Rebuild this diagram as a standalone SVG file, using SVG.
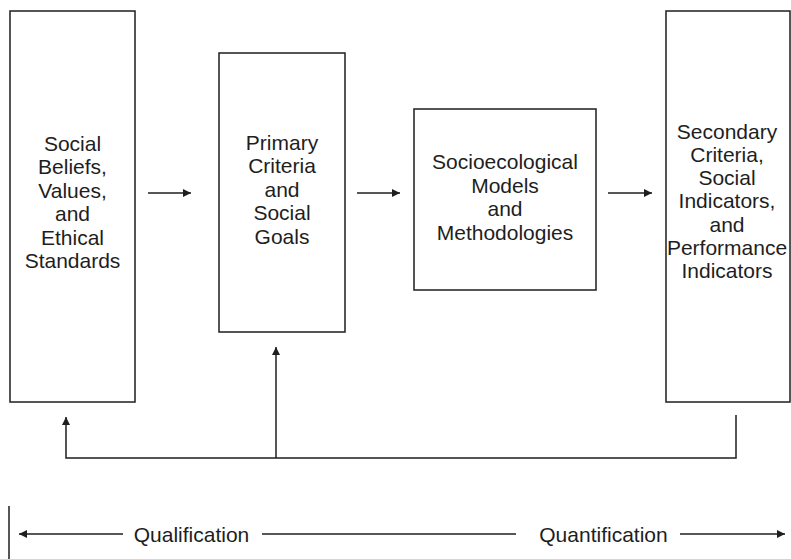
<svg xmlns="http://www.w3.org/2000/svg" width="791" height="559" viewBox="0 0 791 559">
  <style>
    .box { fill: #ffffff; stroke: #1e1e1e; stroke-width: 1.5; }
    .lbl { font-family: "Liberation Sans", Arial, sans-serif; font-size: 21px; fill: #1e1e1e; text-anchor: middle; }
    .wire { fill: none; stroke: #1e1e1e; stroke-width: 1.5; }
  </style>
  <defs>
    <marker id="head" viewBox="0 0 10 10" refX="10" refY="5" markerWidth="10" markerHeight="8" markerUnits="userSpaceOnUse" orient="auto">
      <path d="M0,0 L10,5 L0,10 z" fill="#1e1e1e"/>
    </marker>
  </defs>
  <rect width="791" height="559" fill="#ffffff"/>

  <g id="beliefs">
    <rect class="box" x="10" y="11" width="125" height="391"/>
    <text class="lbl" x="72.5" y="150.5">Social</text>
    <text class="lbl" x="72.5" y="174">Beliefs,</text>
    <text class="lbl" x="72.5" y="197.5">Values,</text>
    <text class="lbl" x="72.5" y="221">and</text>
    <text class="lbl" x="72.5" y="244.5">Ethical</text>
    <text class="lbl" x="72.5" y="268">Standards</text>
  </g>

  <g id="primary">
    <rect class="box" x="219" y="53" width="126" height="279"/>
    <text class="lbl" x="282" y="149.5">Primary</text>
    <text class="lbl" x="282" y="173">Criteria</text>
    <text class="lbl" x="282" y="196.5">and</text>
    <text class="lbl" x="282" y="220">Social</text>
    <text class="lbl" x="282" y="243.5">Goals</text>
  </g>

  <g id="models">
    <rect class="box" x="414" y="109" width="182" height="181"/>
    <text class="lbl" x="505" y="169">Socioecological</text>
    <text class="lbl" x="505" y="192.5">Models</text>
    <text class="lbl" x="505" y="216">and</text>
    <text class="lbl" x="505" y="239.5">Methodologies</text>
  </g>

  <g id="secondary">
    <rect class="box" x="666" y="11" width="124" height="391"/>
    <text class="lbl" x="727" y="138.5">Secondary</text>
    <text class="lbl" x="727" y="161.8">Criteria,</text>
    <text class="lbl" x="727" y="185.1">Social</text>
    <text class="lbl" x="727" y="208.4">Indicators,</text>
    <text class="lbl" x="727" y="231.7">and</text>
    <text class="lbl" x="727" y="255">Performance</text>
    <text class="lbl" x="727" y="278.3">Indicators</text>
  </g>

  <g id="connectors">
    <line class="wire" x1="148" y1="193" x2="191" y2="193" marker-end="url(#head)"/>
    <line class="wire" x1="357" y1="193" x2="400" y2="193" marker-end="url(#head)"/>
    <line class="wire" x1="608" y1="193" x2="652" y2="193" marker-end="url(#head)"/>
    <!-- feedback loop -->
    <polyline class="wire" points="736,415 736,458 66,458 66,417" marker-end="url(#head)"/>
    <line class="wire" x1="276" y1="458" x2="276" y2="347" marker-end="url(#head)"/>
  </g>

  <g id="scale">
    <line class="wire" x1="9" y1="506" x2="9" y2="559"/>
    <line class="wire" x1="123" y1="534" x2="19" y2="534" marker-end="url(#head)"/>
    <text class="lbl" x="191.5" y="541.5">Qualification</text>
    <line class="wire" x1="262" y1="534" x2="516" y2="534"/>
    <text class="lbl" x="603.5" y="541.5">Quantification</text>
    <line class="wire" x1="680" y1="534" x2="785" y2="534" marker-end="url(#head)"/>
  </g>
</svg>
